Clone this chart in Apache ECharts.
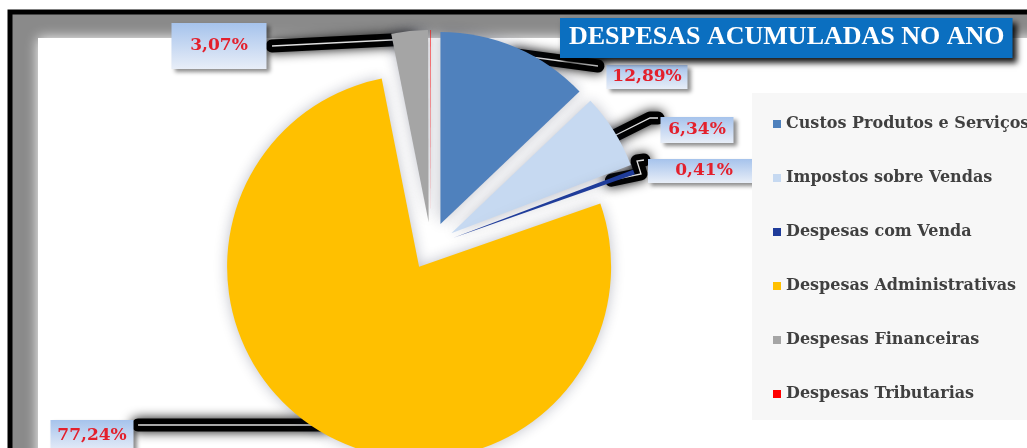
<!DOCTYPE html>
<html>
<head>
<meta charset="utf-8">
<script src="https://cdn.jsdelivr.net/npm/echarts@6/dist/echarts.min.js"></script>
<style>
  html, body {margin: 0; padding: 0; background: #fff;}
  #chart {width: 1027px; height: 448px;}
</style>
</head>
<body>
<div id="chart"></div>
<script>
const categories = [
  "Custos Produtos e Serviços",
  "Impostos sobre Vendas",
  "Despesas com Venda",
  "Despesas Administrativas",
  "Despesas Financeiras",
  "Despesas Tributarias",
];
const values = [12.89, 6.34, 0.41, 77.24, 3.07, 0.05];
const showLabel = [true, true, true, true, true, false];

const colors = ["#4f81bd", "#c6d9f1", "#1f3c9a", "#ffc000", "#a5a5a5", "#ff0000"];

// label boxes: center x, center y, width, height
const labelBoxes = [
  [647, 77, 81, 24],
  [697, 130, 73, 26],
  [704, 171, 112, 24],
  [92, 436, 83, 32],
  [219, 46, 95, 46],
  null,
];
// leader line points after the start on the slice
const lineEnds = [
  [[516, 55], [598, 66]],
  [[614, 136], [650, 118], [658, 118]],
  [[641, 174], [637, 161], [644, 160]],
  [[322, 425], [138, 425]],
  [[410, 39], [272, 46]],
  null,
];

const PIE_CENTER = [431, 246];
const PIE_RADIUS = 192;

const fmt = v => v.toFixed(2).replace(".", ",") + "%";

const labelBg = {
  type: "linear", x: 0, y: 0, x2: 0, y2: 1,
  colorStops: [
    {offset: 0, color: "#a6c3ec"},
    {offset: 1, color: "#e8eef8"},
  ],
};

const labelLayout = params => {
  const i = params.dataIndex;
  const box = labelBoxes[i];
  if (!box) return {};
  const pts = params.labelLinePoints;
  return {
    x: box[0],
    y: box[1],
    align: "center",
    verticalAlign: "middle",
    labelLinePoints: pts ? [pts[0]].concat(lineEnds[i]) : undefined,
  };
};

// slices, exploded
const sliceData = categories.map((name, i) => ({
  name: name,
  value: values[i],
  selected: true,
  itemStyle: {color: colors[i]},
}));

// labels + leader lines (not exploded, sits under the slices)
const labelData = (textColor, withBox) =>
  categories.map((name, i) => {
    const box = labelBoxes[i];
    return {
      name: name,
      value: values[i],
      label: box
        ? {show: true, width: box[2], height: box[3], lineHeight: box[3], color: textColor,
           backgroundColor: withBox ? labelBg : "transparent"}
        : {show: false},
      labelLine: {show: showLabel[i]},
    };
  });

const labelSeries = (textColor, withBox, lineStyle) => ({
  type: "pie",
  z: 1,
  silent: true,
  center: PIE_CENTER,
  radius: PIE_RADIUS,
  startAngle: 90,
  clockwise: true,
  avoidLabelOverlap: false,
  itemStyle: {color: "rgba(0,0,0,0)"},
  label: {
    position: "outside",
    formatter: p => fmt(p.value),
    fontFamily: "DejaVu Serif",
    fontWeight: "bold",
    fontSize: 17,
    align: "center",
    verticalAlign: "middle",
    shadowBlur: withBox ? 4 : 0,
    shadowColor: withBox ? "rgba(0,0,0,0.45)" : "transparent",
    shadowOffsetX: withBox ? 3 : 0,
    shadowOffsetY: withBox ? 3 : 0,
  },
  labelLine: {length: 10, length2: 10, lineStyle: lineStyle},
  labelLayout: labelLayout,
  data: labelData(textColor, withBox),
});

const chart = echarts.init(document.getElementById("chart"));

chart.setOption({
  animation: false,
  backgroundColor: "#fff",
  graphic: [
    {
      type: "rect",
      shape: {x: 10, y: 12, width: 1040, height: 460},
      style: {fill: "#8a8a8a", stroke: "#000", lineWidth: 5},
    },
    {
      type: "rect",
      shape: {x: 38, y: 38, width: 1010, height: 430},
      style: {fill: "#fff", shadowBlur: 12, shadowColor: "#fff"},
    },
  ],
  title: {
    text: "DESPESAS ACUMULADAS NO ANO",
    left: 560,
    top: 18,
    padding: [6, 8, 8, 9],
    backgroundColor: "#0b6fc0",
    shadowBlur: 6,
    shadowColor: "rgba(0,0,0,0.9)",
    shadowOffsetX: 4,
    shadowOffsetY: 5,
    textStyle: {
      color: "#fff",
      fontFamily: "Liberation Serif",
      fontWeight: "bold",
      fontSize: 26,
    },
  },
  legend: {
    orient: "vertical",
    left: 752,
    top: 93,
    padding: [23, 30, 18, 21],
    itemGap: 38,
    itemWidth: 8,
    itemHeight: 8,
    icon: "rect",
    backgroundColor: "#f7f7f7",
    selectedMode: false,
    data: categories,
    textStyle: {
      color: "#404040",
      fontFamily: "DejaVu Serif",
      fontWeight: "bold",
      fontSize: 16,
    },
  },
  series: [
    {
      type: "pie",
      z: 2,
      center: PIE_CENTER,
      radius: PIE_RADIUS,
      startAngle: 90,
      clockwise: true,
      selectedMode: "multiple",
      selectedOffset: 24,
      itemStyle: {
        shadowBlur: 14,
        shadowColor: "rgba(20,30,60,0.28)",
      },
      label: {show: false},
      labelLine: {show: false},
      data: sliceData,
    },
    labelSeries("#e3202c", true, {
      color: "#000",
      width: 13,
      cap: "round",
      join: "round",
      shadowBlur: 12,
      shadowColor: "#000",
    }),
    labelSeries("rgba(0,0,0,0)", false, {
      color: "#e0e0e0",
      width: 1.3,
    }),
  ],
});
</script>
</body>
</html>
